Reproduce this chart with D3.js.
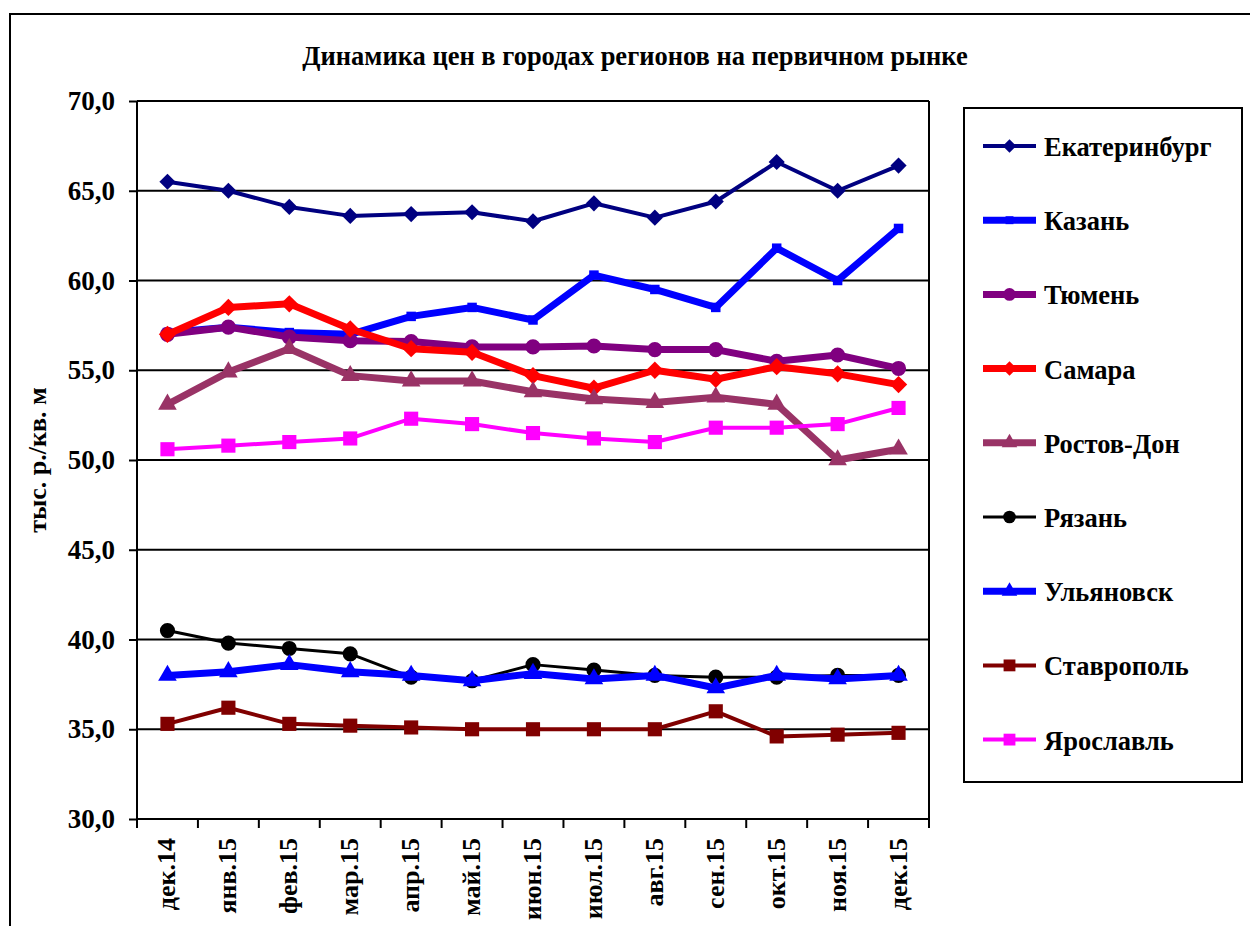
<!DOCTYPE html>
<html>
<head>
<meta charset="utf-8">
<script src="https://cdn.jsdelivr.net/npm/d3@7"></script>
<style>
  body { margin: 0; background: #fff; }
  text { font-family: "Liberation Serif", "Times New Roman", serif; font-weight: bold; }
</style>
</head>
<body>
<div id="chart-area"></div>
<script>
// months on the x axis
var months = ["дек.14", "янв.15", "фев.15", "мар.15", "апр.15", "май.15", "июн.15",
  "июл.15", "авг.15", "сен.15", "окт.15", "ноя.15", "дек.15"];

var yTicks = [30, 35, 40, 45, 50, 55, 60, 65, 70];

// series values, тыс. р./кв. м
var ekaterinburg = [65.5, 65.0, 64.1, 63.6, 63.7, 63.8, 63.3, 64.3, 63.5, 64.4, 66.6, 65.0, 66.4];
var kazan        = [57.1, 57.4, 57.1, 57.0, 58.0, 58.5, 57.8, 60.3, 59.5, 58.5, 61.8, 60.0, 62.9];
var tyumen       = [57.0, 57.4, 56.85, 56.65, 56.6, 56.3, 56.3, 56.35, 56.15, 56.15, 55.5, 55.85, 55.1];
var samara       = [57.0, 58.5, 58.7, 57.3, 56.2, 56.0, 54.7, 54.0, 55.0, 54.5, 55.2, 54.8, 54.2];
var rostov       = [53.1, 54.9, 56.2, 54.7, 54.4, 54.4, 53.8, 53.4, 53.2, 53.5, 53.1, 50.0, 50.6];
var ryazan       = [40.5, 39.8, 39.5, 39.2, 37.9, 37.7, 38.6, 38.3, 38.0, 37.9, 37.9, 38.0, 38.0];
var ulyanovsk    = [38.0, 38.2, 38.6, 38.2, 38.0, 37.7, 38.1, 37.8, 38.0, 37.3, 38.0, 37.8, 38.0];
var stavropol    = [35.3, 36.2, 35.3, 35.2, 35.1, 35.0, 35.0, 35.0, 35.0, 36.0, 34.6, 34.7, 34.8];
var yaroslavl    = [50.6, 50.8, 51.0, 51.2, 52.3, 52.0, 51.5, 51.2, 51.0, 51.8, 51.8, 52.0, 52.9];

var cityNames = ["Екатеринбург", "Казань", "Тюмень", "Самара", "Ростов-Дон",
  "Рязань", "Ульяновск", "Ставрополь", "Ярославль"];
var cityValues = [ekaterinburg, kazan, tyumen, samara, rostov, ryazan, ulyanovsk, stavropol, yaroslavl];

// excel style diamond: a square turned 45 degrees
var rhomb = {
  draw: function(context, size) {
    var r = Math.sqrt(size / 2);
    context.moveTo(0, -r);
    context.lineTo(r, 0);
    context.lineTo(0, r);
    context.lineTo(-r, 0);
    context.closePath();
  }
};

// look of each series
var styles = [
  { color: "#000080", width: 4, symbol: rhomb, size: 130 },
  { color: "#0000FF", width: 7, symbol: d3.symbolSquare, size: 90 },
  { color: "#800080", width: 7, symbol: d3.symbolCircle, size: 180 },
  { color: "#FF0000", width: 7, symbol: rhomb, size: 150 },
  { color: "#993366", width: 7, symbol: d3.symbolTriangle, size: 150 },
  { color: "#000000", width: 3, symbol: d3.symbolCircle, size: 180 },
  { color: "#0000FF", width: 7, symbol: d3.symbolTriangle, size: 150 },
  { color: "#800000", width: 4, symbol: d3.symbolSquare, size: 200 },
  { color: "#FF00FF", width: 4, symbol: d3.symbolSquare, size: 200 }
];

var W = 1250, H = 926;
var plot = { left: 137, right: 929, top: 101, bottom: 819 };

var svg = d3.select("#chart-area")
  .append("svg")
    .attr("width", W)
    .attr("height", H);

// outer chart border
svg.append("rect")
  .attr("x", 10).attr("y", 14)
  .attr("width", W + 20).attr("height", H + 20)
  .attr("fill", "none")
  .attr("stroke", "#000")
  .attr("stroke-width", 2);

// title
svg.append("text")
  .attr("x", 635).attr("y", 65)
  .attr("text-anchor", "middle")
  .attr("font-size", "26.5px")
  .text("Динамика цен в городах регионов на первичном рынке");

var x = d3.scaleBand()
  .domain(months)
  .range([plot.left, plot.right]);

var y = d3.scaleLinear()
  .domain([30, 70])
  .range([plot.bottom, plot.top]);

// horizontal grid lines
svg.append("g")
  .selectAll("line")
  .data(yTicks)
  .enter().append("line")
    .attr("x1", plot.left).attr("x2", plot.right)
    .attr("y1", function(d) { return y(d); })
    .attr("y2", function(d) { return y(d); })
    .attr("stroke", "#000")
    .attr("stroke-width", 2);

// right border of plot
svg.append("line")
  .attr("x1", plot.right).attr("x2", plot.right)
  .attr("y1", plot.top).attr("y2", plot.bottom)
  .attr("stroke", "#000").attr("stroke-width", 2);

// y axis
var yAxisCall = d3.axisLeft(y)
  .tickValues(yTicks)
  .tickSize(8)
  .tickPadding(14)
  .tickFormat(function(d) { return d3.format(".1f")(d).replace(".", ","); });

var yAxisGroup = svg.append("g")
  .attr("transform", "translate(" + plot.left + ",0)")
  .call(yAxisCall);
yAxisGroup.select(".domain").attr("stroke-width", 2).attr("d", "M0," + plot.top + "V" + plot.bottom);
yAxisGroup.selectAll(".tick line").attr("stroke-width", 2);
yAxisGroup.selectAll("text")
  .attr("font-size", "27px")
  .attr("font-family", "Liberation Serif, serif")
  .attr("fill", "#000");

// x axis: ticks sit between categories
var xAxisGroup = svg.append("g")
  .attr("transform", "translate(0," + plot.bottom + ")");
xAxisGroup.append("line")
  .attr("x1", plot.left).attr("x2", plot.right)
  .attr("stroke", "#000").attr("stroke-width", 2);
xAxisGroup.selectAll(".xtick")
  .data(months.concat(["end"]))
  .enter().append("line")
    .attr("class", "xtick")
    .attr("x1", function(d, i) { return plot.left + i * x.step(); })
    .attr("x2", function(d, i) { return plot.left + i * x.step(); })
    .attr("y1", 0).attr("y2", 9)
    .attr("stroke", "#000").attr("stroke-width", 2);
xAxisGroup.selectAll(".xlabel")
  .data(months)
  .enter().append("text")
    .attr("class", "xlabel")
    .attr("font-size", "26px")
    .attr("text-anchor", "end")
    .attr("transform", function(d) {
      return "translate(" + (x(d) + x.bandwidth() / 2 + 8) + ",19) rotate(-90)";
    })
    .text(function(d) { return d; });

// y label
svg.append("text")
  .attr("transform", "translate(46," + ((plot.top + plot.bottom) / 2) + ") rotate(-90)")
  .attr("text-anchor", "middle")
  .attr("font-size", "26px")
  .text("тыс. р./кв. м");

var line = d3.line()
  .x(function(d, i) { return x(months[i]) + x.bandwidth() / 2; })
  .y(function(d) { return y(d); });

cityValues.forEach(function(values, k) {
  var st = styles[k];
  var g = svg.append("g");
  g.append("path")
    .datum(values)
    .attr("fill", "none")
    .attr("stroke", st.color)
    .attr("stroke-width", st.width)
    .attr("stroke-linejoin", "round")
    .attr("d", line);
  g.selectAll("path.marker")
    .data(values)
    .enter().append("path")
      .attr("class", "marker")
      .attr("d", d3.symbol().type(st.symbol).size(st.size))
      .attr("fill", st.color)
      .attr("transform", function(d, i) {
        return "translate(" + (x(months[i]) + x.bandwidth() / 2) + "," + y(d) + ")";
      });
});

// legend
var legend = svg.append("g");
legend.append("rect")
  .attr("x", 964).attr("y", 108)
  .attr("width", 278).attr("height", 674)
  .attr("fill", "#fff")
  .attr("stroke", "#000")
  .attr("stroke-width", 2);

cityNames.forEach(function(name, k) {
  var st = styles[k];
  var row = legend.append("g")
    .attr("transform", "translate(0," + (146 + k * 74.2) + ")");
  row.append("line")
    .attr("x1", 983).attr("x2", 1036)
    .attr("stroke", st.color)
    .attr("stroke-width", st.width);
  row.append("path")
    .attr("d", d3.symbol().type(st.symbol).size(st.size * 0.7))
    .attr("transform", "translate(1009.5,0)")
    .attr("fill", st.color);
  row.append("text")
    .attr("x", 1044).attr("y", 10)
    .attr("font-size", "26.5px")
    .text(name);
});
</script>
</body>
</html>
